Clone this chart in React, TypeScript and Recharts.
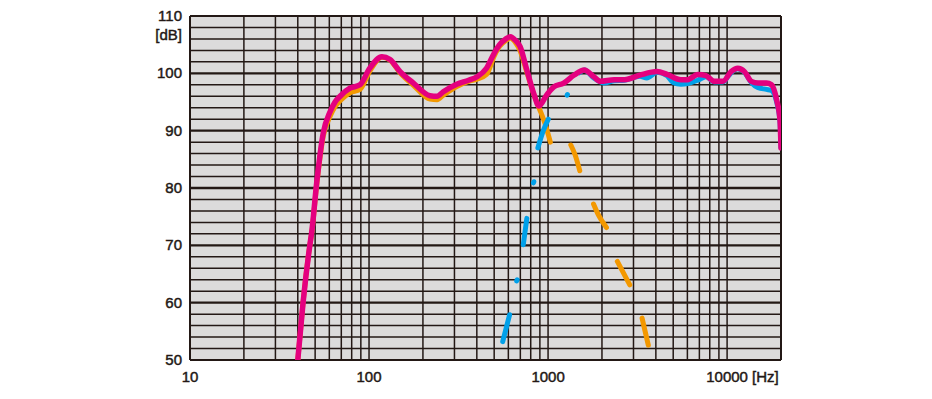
import { CartesianGrid, Line, LineChart, ReferenceLine, XAxis, YAxis } from "recharts";

// frequency [Hz], level [dB]
const combined: [number, number][] = [
  [40, 50], [42.8, 60], [46.7, 70], [47.8, 72.2], [51, 80.9], [55.5, 89.6],
  [60.6, 93.3], [64.6, 95.0], [68.9, 96.0], [78.2, 97.4], [89, 98.0], [101, 100.9],
  [118, 102.9], [131, 102.4], [149, 100.3], [177, 98.3], [219, 96.1], [240, 96.0],
  [260, 96.8], [309, 98.1], [360, 98.8], [401, 99.4], [453, 100.9], [500, 103.5],
  [536, 105.0], [580, 106.0], [615, 106.4], [660, 105.7], [697, 104.7], [761, 100.6],
  [831, 96.5], [890, 94.3], [981, 96.2], [1073, 97.6], [1223, 98.3], [1400, 99.7],
  [1594, 100.6], [1800, 99.4], [1958, 98.6], [2343, 98.9], [2673, 98.9], [3260, 99.7],
  [4070, 100.3], [4620, 99.8], [5520, 98.9], [6020, 98.9], [6860, 99.8], [7620, 99.6],
  [8500, 98.6], [9480, 98.6], [10530, 100.3], [11470, 100.9], [12500, 100.3], [13650, 98.6],
  [14900, 98.3], [16600, 98.3], [17700, 98.0], [18900, 95.4], [19740, 91.9], [20000, 87.0],
];

// null = gap in the dashed trace
const woofer: [number, number | null][] = [
  [40, 50], [42.8, 60], [46.7, 70], [47.8, 72.0], [51, 80.5], [55.5, 89.0],
  [60.6, 92.5], [64.6, 94.2], [68.9, 95.2], [78.2, 96.6], [89, 97.2], [101, 100.4],
  [118, 102.8], [131, 102.3], [149, 100.1], [177, 97.9], [219, 95.5], [240, 95.4],
  [260, 96.2], [309, 97.7], [360, 98.6], [401, 99.0], [453, 99.8], [500, 103.0],
  [536, 104.7], [580, 105.7], [615, 106.1], [660, 105.3], [697, 104.0], [761, 100.2],
  [831, 96.4], [890, 94.0], [960, 91.3], [1030, 88.0], [1100, null],
  [1340, 87.5], [1415, 85.8], [1504, 83.0], [1600, null],
  [1794, 77.2], [1910, 75.3], [2118, 73.1], [2250, null],
  [2437, 67.2], [2860, 63.1], [3100, null],
  [3350, 57.3], [3630, 52.6],
];

const tweeter: [number, number | null][] = [
  [558, 53.2], [610, 57.9], [640, null],
  [668, 63.8], [672, 64.0], [700, null],
  [727, 70.1], [761, 74.7], [800, null],
  [829, 80.9], [833, 81.1], [850, null],
  [877, 87.0], [935, 89.8], [1003, 92.0], [1100, null],
  [1278, 96.2], [1282, 96.3], [1400, null],
  [1500, 100.1], [1594, 100.6], [1800, 99.2], [2050, 98.3], [2343, 98.7], [2673, 98.8],
  [3260, 99.5], [3560, 99.2], [4070, 100.2], [4620, 99.6], [5000, 98.4], [5520, 98.1],
  [6020, 98.2], [6860, 98.8], [7620, 99.4], [8500, 98.5], [9480, 98.5], [10200, 99.6],
  [10530, 100.1], [11470, 100.8], [12500, 100.2], [13650, 98.4], [14900, 97.5], [16600, 97.2],
  [17700, 97.0], [18900, 95.0], [19740, 91.7], [20000, 87.0],
];

const xTicks = [10, 100, 1000, 10000];
const yTicks = [50, 60, 70, 80, 90, 100, 110];
const xGrid = [
  20, 30, 40, 50, 60, 70, 80, 90, 100,
  200, 300, 400, 500, 600, 700, 800, 900, 1000,
  2000, 3000, 4000, 5000, 6000, 7000, 8000, 9000, 10000,
];
const yMinor = [
  52, 54, 56, 58, 62, 64, 66, 68, 72, 74, 76, 78, 82, 84, 86, 88,
  92, 94, 96, 98, 102, 104, 106, 108,
];
const yMajor = [60, 70, 80, 90, 100];

const INK = "#231815";
const FONT = "'Liberation Sans', Arial, sans-serif";
const COLORS = { combined: "#e4007f", woofer: "#f39800", tweeter: "#00a0e9" };

const toRows = (pts: [number, number | null][]) => pts.map(([f, db]) => ({ f, db }));

const labelStyle = {
  fontFamily: FONT,
  fontSize: 15,
  fill: INK,
  stroke: INK,
  strokeWidth: 0.45,
};

function XTick({ x, y, payload }: any) {
  return (
    <g>
      <text x={x} y={y + 14} textAnchor="middle" {...labelStyle}>
        {payload.value}
      </text>
      {payload.value === 10000 && (
        <text x={x + 25} y={y + 14} textAnchor="start" {...labelStyle}>
          [Hz]
        </text>
      )}
    </g>
  );
}

function YTick({ x, y, payload }: any) {
  return (
    <g>
      <text x={x} y={y + 5} textAnchor="end" {...labelStyle}>
        {payload.value}
      </text>
      {payload.value === 110 && (
        <text x={x} y={y + 24} textAnchor="end" {...labelStyle}>
          [dB]
        </text>
      )}
    </g>
  );
}

export default function App() {
  return (
    <div style={{ position: "absolute", left: 0, top: 0, width: 932, height: 399, background: "#fff" }}>
      <LineChart width={932} height={399} margin={{ top: 16, right: 151, left: 130, bottom: 9 }}>
        <CartesianGrid horizontal={false} vertical={false} fill="#dcdbdb" fillOpacity={1} />
        {xGrid.map((v) => (
          <ReferenceLine key={"x" + v} x={v} stroke={INK} strokeWidth={1.5} zIndex={-10} />
        ))}
        {yMinor.map((v) => (
          <ReferenceLine key={"y" + v} y={v} stroke={INK} strokeWidth={1.5} zIndex={-10} />
        ))}
        {yMajor.map((v) => (
          <ReferenceLine key={"Y" + v} y={v} stroke={INK} strokeWidth={2.4} zIndex={-10} />
        ))}
        <ReferenceLine x={10} stroke={INK} strokeWidth={2} zIndex={-10} />
        <ReferenceLine x={20000} stroke={INK} strokeWidth={2} zIndex={-10} />
        <ReferenceLine y={50} stroke={INK} strokeWidth={2} zIndex={-10} />
        <ReferenceLine y={110} stroke={INK} strokeWidth={2} zIndex={-10} />
        <XAxis
          dataKey="f"
          type="number"
          scale="log"
          domain={[10, 20000]}
          ticks={xTicks}
          axisLine={false}
          tickLine={false}
          height={30}
          allowDataOverflow
          tick={<XTick />}
        />
        <YAxis
          type="number"
          domain={[50, 110]}
          ticks={yTicks}
          axisLine={false}
          tickLine={false}
          width={60}
          allowDataOverflow
          tick={<YTick />}
        />
        <Line
          data={toRows(woofer)}
          dataKey="db"
          type="monotone"
          stroke={COLORS.woofer}
          strokeWidth={5}
          strokeLinecap="round"
          strokeLinejoin="round"
          dot={false}
          activeDot={false}
          connectNulls={false}
          isAnimationActive={false}
        />
        <Line
          data={toRows(tweeter)}
          dataKey="db"
          type="monotone"
          stroke={COLORS.tweeter}
          strokeWidth={5}
          strokeLinecap="round"
          strokeLinejoin="round"
          dot={false}
          activeDot={false}
          connectNulls={false}
          isAnimationActive={false}
        />
        <Line
          data={toRows(combined)}
          dataKey="db"
          type="monotone"
          stroke={COLORS.combined}
          strokeWidth={5.5}
          strokeLinecap="round"
          strokeLinejoin="round"
          dot={false}
          activeDot={false}
          isAnimationActive={false}
        />
      </LineChart>
    </div>
  );
}
